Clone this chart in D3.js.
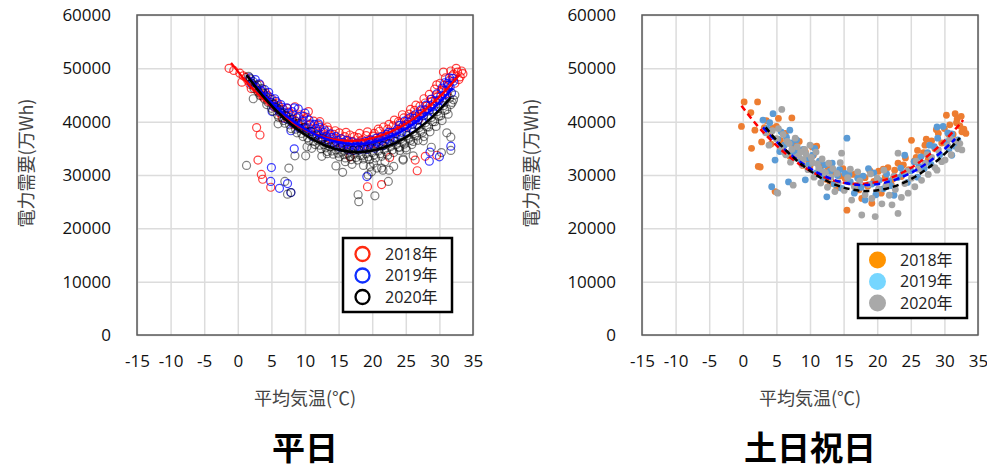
<!DOCTYPE html>
<html>
<head>
<meta charset="utf-8">
<script src="https://cdn.jsdelivr.net/npm/d3@7/dist/d3.min.js"></script>
<style>
    body { margin: 0; background: #fff; }
    text { font-family: "Open Sans", "Noto Sans CJK JP", sans-serif; }
</style>
</head>
<body>
<svg id="chart" width="987" height="469"></svg>
<script>
// Axis ticks
const TEMP_TICKS = [-15, -10, -5, 0, 5, 10, 15, 20, 25, 30, 35];
const DEMAND_TICKS = [0, 10000, 20000, 30000, 40000, 50000, 60000];
const YEARS = ["2018年", "2019年", "2020年"];

// Weekday (平日) observations: [average temp, demand]
const weekday2018 = [
    [-1.3,50000],[-0.6,49600],[0.3,49100],[0.6,47400],[1.2,48300],[1.8,47000],[2.4,46600],[2.9,45800],
    [3.3,46900],[3.8,44600],[4.2,45300],[4.6,43800],[5.1,44200],[5.5,42700],[5.9,43500],[6.3,41600],
    [6.8,42300],[7.2,40900],[7.6,41800],[8.1,40200],[8.5,42800],[8.9,39600],[9.3,41300],[9.7,40400],
    [10.1,39000],[10.5,41900],[10.9,38600],[11.3,40100],[11.6,38200],[12.0,39300],[12.4,37600],[12.8,38700],
    [13.1,37100],[13.5,38400],[13.9,36700],[14.3,37600],[14.7,36200],[15.1,37900],[15.5,36000],[15.9,37200],
    [16.3,35800],[16.7,37500],[17.1,36300],[17.5,35600],[17.9,37000],[18.3,36100],[18.7,35500],[19.1,37400],
    [19.5,36500],[19.9,35900],[20.3,37800],[20.7,36900],[21.1,38200],[21.5,36400],[21.9,37500],[22.3,38600],
    [22.7,37300],[23.1,39200],[23.5,38100],[23.9,40000],[24.3,38900],[24.7,40700],[25.1,39500],[25.5,41400],
    [25.9,40300],[26.3,42100],[26.7,41000],[27.1,42900],[27.5,41600],[27.9,43500],[28.3,42400],[28.7,44200],
    [29.1,43300],[29.5,45000],[29.9,44100],[30.3,45900],[30.7,46800],[31.1,45300],[31.5,47700],[31.9,48600],
    [32.3,47200],[32.7,49300],[33.1,48400],[33.5,49000],[31.7,49500],[32.5,50000],[30.6,49300],[29.6,46900],
    [0.8,48600],[1.5,47700],[2.0,46200],[3.5,45000],[4.4,44900],[5.3,43300],[6.1,42900],[6.6,40700],
    [7.4,42500],[7.9,41100],[8.3,39500],[9.1,40900],[9.5,38800],[10.3,40800],[10.7,39400],[11.1,37500],
    [11.9,38300],[12.2,40000],[12.6,36800],[13.3,39000],[13.7,37500],[14.1,36000],[14.5,38300],[15.3,36800],
    [15.7,35500],[16.1,38000],[16.5,36400],[17.3,37200],[17.7,35900],[18.1,37800],[18.5,36600],[18.9,35800],
    [19.3,38100],[19.7,36200],[20.1,37300],[20.5,35900],[20.9,38600],[21.3,37000],[21.7,39000],[22.1,37200],
    [22.5,39500],[22.9,38000],[23.3,40300],[23.7,38500],[24.1,39700],[24.5,41300],[24.9,39000],[25.3,40500],
    [25.7,42300],[26.1,41100],[26.5,43100],[26.9,40400],[27.3,42000],[27.7,44300],[28.1,42900],[28.5,45100],
    [28.9,43800],[29.3,46100],[29.7,44600],[30.1,47200],[30.5,45600],[30.9,48200],[31.3,46700],[32.1,48900],
    [32.9,47900],[33.3,49500],
    [2.8,38900],[3.3,37500],[3.0,32800],[3.5,30100],[3.7,29200],[4.9,27700],[16.7,33400],[19.3,27800],
    [21.4,28200],[22.6,33300],[26.4,32800],[26.7,30800],[27.9,33500],[29.6,33700]
];
const weekday2019 = [
    [1.8,48200],[2.3,47500],[2.8,46400],[3.2,47100],[3.7,45600],[4.1,44800],[4.6,45500],[5.0,43600],
    [5.5,44300],[5.9,42500],[6.4,43200],[6.8,41700],[7.3,42600],[7.7,40800],[8.1,41900],[8.6,40100],
    [9.0,42400],[9.4,39400],[9.8,41000],[10.2,38700],[10.6,40300],[11.0,38100],[11.4,39500],[11.8,37600],
    [12.2,38900],[12.6,37100],[13.0,38300],[13.4,36600],[13.8,37700],[14.2,36100],[14.6,37200],[15.0,35700],
    [15.4,36800],[15.8,35300],[16.2,36500],[16.6,35100],[17.0,36200],[17.4,35000],[17.8,36000],[18.2,35400],
    [18.6,34900],[19.0,36300],[19.4,35200],[19.8,36600],[20.2,35500],[20.6,36900],[21.0,35800],[21.4,37200],
    [21.8,36200],[22.2,37600],[22.6,36500],[23.0,38000],[23.4,37000],[23.8,38600],[24.2,37500],[24.6,39200],
    [25.0,38100],[25.4,39900],[25.8,38800],[26.2,40600],[26.6,39500],[27.0,41400],[27.4,40200],[27.8,42200],
    [28.2,41000],[28.6,43000],[29.0,41900],[29.4,43900],[29.8,42800],[30.2,44800],[30.6,43800],[31.0,45800],
    [31.4,46900],[31.8,45400],[32.1,47600],[30.8,47300],[31.5,48200],
    [2.0,47200],[2.6,47900],[3.4,45900],[4.0,46000],[4.8,44600],[5.3,42900],[5.7,43800],[6.2,41900],
    [6.6,42700],[7.0,40600],[7.5,41600],[8.0,39900],[8.4,42600],[8.8,40700],[9.2,38800],[9.6,40100],
    [10.0,41600],[10.4,38000],[10.8,39600],[11.2,37200],[11.6,38700],[12.0,39600],[12.4,36800],[12.8,38000],
    [13.2,37300],[13.6,35900],[14.0,37000],[14.4,35600],[14.8,36500],[15.2,35200],[15.6,36100],[16.0,35800],
    [16.4,34700],[16.8,35600],[17.2,34600],[17.6,35400],[18.0,34700],[18.4,36000],[18.8,35200],[19.2,34800],
    [19.6,35700],[20.0,36200],[20.4,35000],[20.8,36200],[21.2,36500],[21.6,35500],[22.0,36800],[22.4,38000],
    [22.8,37100],[23.2,36400],[23.6,37800],[24.0,39300],[24.4,38000],[24.8,40100],[25.2,38900],[25.6,40700],
    [26.0,39500],[26.4,41300],[26.8,40300],[27.2,42200],[27.6,41100],[28.0,43100],[28.4,42000],[28.8,44200],
    [29.2,42900],[29.6,45200],[30.0,44000],[30.4,46300],[30.8,45000],[31.2,47200],[31.6,46500],[32.0,48100],
    [5.1,41900],[7.9,38300],[8.4,34900],[5.0,31400],[4.9,28800],[6.2,27500],[7.4,28400],[7.9,26700],
    [19.2,29700],[28.6,34300],[28.5,32600],[30.0,33400],[31.7,35400]
];
const weekday2020 = [
    [1.6,48500],[2.1,47200],[2.6,46700],[3.1,45500],[3.6,46200],[4.0,44200],[4.5,43600],[5.0,42500],
    [5.4,43300],[5.9,41300],[6.3,42200],[6.8,40200],[7.2,41100],[7.7,39400],[8.1,40500],[8.6,38600],
    [9.0,39700],[9.5,37800],[9.9,38900],[10.4,37000],[10.8,38200],[11.3,36300],[11.7,37400],[12.2,35600],
    [12.6,36800],[13.1,35100],[13.5,36200],[14.0,34500],[14.4,35600],[14.9,34100],[15.3,35200],[15.8,33800],
    [16.2,34900],[16.7,33500],[17.1,34600],[17.6,33300],[18.0,34700],[18.5,33600],[18.9,34900],[19.4,33400],
    [19.8,35100],[20.3,33800],[20.7,35300],[21.2,34000],[21.6,35500],[22.1,34300],[22.5,35900],[23.0,34700],
    [23.4,36300],[23.9,35200],[24.3,36800],[24.8,35800],[25.2,37400],[25.7,36500],[26.1,38100],[26.6,37300],
    [27.0,38900],[27.5,38000],[27.9,39800],[28.4,39000],[28.8,40800],[29.3,40000],[29.7,41900],[30.2,41100],
    [30.6,43000],[31.1,42300],[31.5,44400],[31.9,43600],[32.3,45000],
    [1.9,48000],[2.4,46200],[2.9,46900],[3.3,44900],[3.8,45300],[4.3,43200],[4.7,44300],[5.2,42000],
    [5.7,42700],[6.1,40800],[6.5,41600],[7.0,39700],[7.4,40400],[7.9,38700],[8.3,39800],[8.8,37900],
    [9.2,38700],[9.7,37200],[10.1,38100],[10.6,36400],[11.0,37300],[11.5,35700],[11.9,36500],[12.4,34900],
    [12.8,35700],[13.3,34400],[13.7,35300],[14.2,33900],[14.6,34700],[15.1,33400],[15.5,34300],[16.0,33200],
    [16.4,34100],[16.9,32900],[17.3,33900],[17.8,32800],[18.2,33700],[18.7,33000],[19.1,34000],[19.6,32900],
    [20.0,34200],[20.5,33200],[20.9,34500],[21.4,33500],[21.8,34800],[22.3,33700],[22.7,35300],[23.2,34200],
    [23.6,35700],[24.1,34600],[24.5,36200],[25.0,35100],[25.4,36800],[25.9,35700],[26.3,37400],[26.8,36500],
    [27.2,38200],[27.7,37200],[28.1,39000],[28.6,38100],[29.0,40000],[29.5,39100],[29.9,41000],[30.4,40200],
    [30.8,42100],[31.3,41400],[31.7,43200],[32.1,44100],
    [1.3,31800],[2.3,44300],[6.0,39600],[7.6,31300],[7.0,28800],[7.4,26400],[7.9,26700],[8.5,33600],
    [10.1,33600],[10.3,35300],[11.0,35000],[14.6,31700],[15.6,30500],[17.9,26300],[18.0,25000],[20.4,26100],
    [22.4,28800],[18.7,31800],[19.4,30000],[19.7,31600],[19.9,30600],[20.2,32200],[20.7,31300],[21.4,31300],
    [21.6,30900],[21.9,32500],[22.5,30900],[23.2,31600],[24.1,35200],[24.6,32800],[24.6,33000],[25.1,34700],
    [26.1,36300],[26.1,33600],[27.6,36400],[28.8,35200],[30.3,34200],[31.1,37900],[31.7,37100],[31.7,34600],
    [12.5,33500],[13.3,34000],[16.0,32500],[17.0,32000]
];

// Weekday trend curves
const weekdayFit2018 = [[-1,51030],[1,47910],[3,45170],[5,42790],[7,40790],[9,39170],[11,37920],[13,37040],
    [15,36540],[17,36400],[19,36650],[21,37260],[23,38250],[25,39620],[27,41360],[29,43470],[31,45950],[33,48810]];
const weekdayFit2019 = [[1.5,48560],[4,44890],[7,41300],[10,38610],[13,36810],[16,35910],[19,35910],
    [22,36810],[25,38610],[28,41300],[30,43600],[32,46290]];
const weekdayFit2020 = [[1.3,48750],[4,44400],[7,40490],[10,37540],[13,35530],[16,34480],[19,34390],
    [22,35250],[25,37060],[28,39820],[30,42200],[31.7,44550]];

// Weekend / holiday (土日祝日) observations
const holiday2018 = [
    [-0.2,39100],[0.2,43700],[1.2,41700],[1.3,35000],[2.2,43700],[2.3,31600],[2.6,31500],[2.8,36200],
    [3.5,40200],[4.0,37500],[4.5,38800],[4.8,26900],[5.3,40600],[5.6,36500],[6.0,35200],[6.3,37800],
    [6.8,34000],[7.3,40700],[7.6,35800],[8.0,33200],[8.4,36300],[8.9,31800],[9.3,34400],[9.8,32600],
    [10.3,35300],[10.5,33700],[11.0,35400],[11.4,30600],[11.9,31900],[12.4,29200],[13.0,28400],[13.5,30500],
    [14.0,27600],[14.4,29800],[14.9,31200],[15.5,23400],[15.9,28700],[16.4,30100],[17.0,30300],[17.3,27200],
    [17.7,25600],[18.2,29500],[18.6,27900],[19.2,24700],[19.5,28800],[20.2,30700],[20.6,26600],[21.2,29600],
    [21.6,31400],[22.1,28200],[22.6,30900],[23.1,32200],[23.6,29700],[24.2,33200],[24.7,31000],[25.1,36500],
    [25.5,32600],[26.0,34600],[26.4,31400],[26.9,34200],[27.1,35600],[27.6,33000],[28.1,36400],[28.6,34900],
    [29.1,37800],[29.6,36000],[30.0,38700],[30.3,41200],[30.8,39400],[31.3,37600],[31.6,41500],[31.9,40500],
    [32.3,39200],[32.6,38100],[32.9,38600],[33.2,37800],
    [1.8,38400],[3.2,38900],[4.2,35800],[5.0,39100],[6.6,36200],[7.0,33500],[8.7,34600],[10.0,31700],
    [12.7,31300],[15.2,29400],[16.8,28000],[18.9,30800],[20.9,31100],[22.4,29300],[23.9,31900],[25.8,33300],
    [27.3,36700],[28.8,38500],[30.6,37700],[31.8,39800],[32.5,41000]
];
const holiday2019 = [
    [3.0,40300],[3.6,38700],[4.3,27800],[4.5,41500],[4.8,32800],[5.2,36700],[5.7,38100],[6.2,35600],
    [6.8,28700],[7.0,38400],[7.5,34300],[8.0,36600],[8.5,33000],[9.0,34800],[9.3,29100],[9.8,31900],
    [10.4,33700],[10.9,30400],[11.4,32600],[11.9,29500],[12.2,31900],[12.5,25900],[13.0,30700],[13.6,28300],
    [14.1,29900],[14.7,27500],[15.2,30300],[15.5,36900],[16.0,28700],[16.6,26600],[17.1,29400],[17.6,27700],
    [18.2,25300],[18.7,31200],[19.2,28300],[19.8,26300],[20.3,29000],[20.9,27400],[21.4,30200],[22.0,28000],
    [22.5,26200],[23.0,29500],[23.5,31300],[24.1,33700],[24.5,28600],[25.0,30800],[25.5,32500],[26.0,29600],
    [26.5,33400],[27.0,31200],[27.5,34200],[28.0,32000],[28.5,35300],[28.9,39000],[29.3,33800],[29.8,39100],
    [30.3,36200],[30.7,34900],[31.1,33700],[31.1,37700],[31.6,35400],[32.0,36600],
    [4.0,39800],[5.5,34400],[6.5,37100],[7.2,36000],[8.2,34500],[9.6,33200],[10.7,35000],[11.7,30700],
    [13.3,32200],[14.4,31000],[15.8,30100],[17.9,29800],[19.5,30400],[21.7,28900],[23.8,30200],[26.2,31600],
    [27.8,35600],[29.0,36900],[30.5,37900]
];
const holiday2020 = [
    [3.4,37900],[3.9,35600],[4.4,38300],[5.1,26700],[5.2,26600],[5.3,38700],[5.8,42300],[6.2,34200],
    [6.6,36300],[7.1,32400],[7.5,28100],[7.8,36900],[8.3,33600],[8.8,31900],[9.2,34800],[9.7,31000],
    [10.2,33300],[10.6,29600],[11.1,32100],[11.6,28500],[12.0,30600],[12.6,27700],[13.1,29600],[13.7,26900],
    [14.2,28500],[14.7,34100],[15.1,27100],[15.6,29500],[16.2,25300],[16.6,27800],[17.1,30600],[17.7,22500],
    [18.2,26300],[18.7,28200],[19.2,25600],[19.7,22200],[20.2,27400],[20.7,24600],[21.3,28000],[21.8,26200],
    [22.2,24400],[22.7,27300],[23.1,22800],[23.1,34100],[23.6,25800],[24.1,28400],[24.6,26600],[25.1,29400],
    [25.6,27800],[26.1,31100],[26.6,29000],[27.1,32200],[27.6,30100],[28.1,33300],[28.6,31400],[29.1,34700],
    [29.6,32500],[30.1,32800],[30.5,35500],[31.0,33800],[31.5,36400],[32.0,34900],[32.3,35900],[32.6,34700],
    [5.0,36800],[5.6,35300],[6.0,37600],[6.4,33800],[6.9,35900],[7.3,34800],[7.7,33200],[8.1,35300],
    [8.6,34300],[9.0,32900],[9.4,33900],[10.0,35600],[10.4,32300],[10.9,34300],[11.3,31300],[11.8,33000],
    [12.3,30400],[12.8,32200],[13.4,31200],[14.0,30300],[14.5,32300],[16.0,31100],[17.4,28900],[19.0,30200],
    [20.0,29400],[21.0,30900],[22.5,29800],[24.4,30700],[25.8,32600],[27.4,33800],[28.9,30900],[30.8,36800]
];

const holidayFit2018 = [[-0.2,43000],[2,39490],[4,36780],[6,34400],[8,32410],[10,30810],[12,29610],[14,28800],
    [16,28380],[18,28350],[20,28710],[22,29460],[24,30610],[26,32150],[28,34080],[30,36400],[32,39130],[32.8,40310]];
const holidayFit2019 = [[3,38930],[5,36260],[7,33970],[9,32050],[11,30510],[13,29360],[15,28580],[17,28180],
    [19,28160],[21,28520],[23,29260],[25,30380],[27,31880],[29,33760],[31,36010],[31.6,36770]];
const holidayFit2020 = [[3.4,38925],[5,36530],[7,33920],[9,31720],[11,29940],[13,28580],[15,27640],[17,27120],
    [19,27010],[21,27330],[23,28060],[25,29210],[27,30780],[29,32770],[31,35170],[32.3,36960]];

const svg = d3.select("#chart");

const plot = { left: 137, right: 473, top: 15, bottom: 335 };

const x = d3.scaleLinear().domain([-15, 35]).range([plot.left, plot.right]);
const y = d3.scaleLinear().domain([0, 60000]).range([plot.bottom, plot.top]);

function drawFrame(g, title) {
    // grid + tick labels
    g.append("g")
        .attr("transform", `translate(0,${plot.bottom})`)
        .call(d3.axisBottom(x).tickValues(TEMP_TICKS).tickSize(-(plot.bottom - plot.top)).tickPadding(20)
            .tickFormat(d => String(d)))
        .call(a => a.select(".domain").remove())
        .call(a => a.selectAll("line").attr("stroke", "#dcdcdc").attr("stroke-width", 1.5))
        .call(a => a.selectAll("text").attr("font-size", 17).attr("fill", "#111")
            .style("font-family", "'Open Sans', sans-serif"));

    g.append("g")
        .attr("transform", `translate(${plot.left},0)`)
        .call(d3.axisLeft(y).tickValues(DEMAND_TICKS).tickSize(-(plot.right - plot.left)).tickPadding(26)
            .tickFormat(d => String(d)))
        .call(a => a.select(".domain").remove())
        .call(a => a.selectAll("line").attr("stroke", "#dcdcdc").attr("stroke-width", 1.5))
        .call(a => a.selectAll("text").attr("font-size", 17).attr("fill", "#111")
            .style("font-family", "'Open Sans', sans-serif"));

    g.append("rect")
        .attr("x", plot.left).attr("y", plot.top)
        .attr("width", plot.right - plot.left).attr("height", plot.bottom - plot.top)
        .attr("fill", "none").attr("stroke", "#5a5a5a").attr("stroke-width", 1.5);

    g.append("text")
        .attr("x", (plot.left + plot.right) / 2).attr("y", 405)
        .attr("text-anchor", "middle").attr("font-size", 18).attr("fill", "#444")
        .style("font-family", "'Noto Sans CJK JP', sans-serif")
        .text("平均気温(℃)");

    g.append("text")
        .attr("transform", "translate(33,163) rotate(-90)")
        .attr("text-anchor", "middle").attr("font-size", 18).attr("fill", "#444")
        .style("font-family", "'Noto Sans CJK JP', sans-serif")
        .text("電力需要(万Wh)");

    g.append("text")
        .attr("x", (plot.left + plot.right) / 2).attr("y", 460)
        .attr("text-anchor", "middle").attr("font-size", 33).attr("font-weight", "bold").attr("fill", "#000")
        .style("font-family", "'Noto Sans CJK JP', sans-serif")
        .text(title);
}

function drawLegend(g, lx, ly, colors, filled) {
    const box = g.append("g").attr("transform", `translate(${lx},${ly})`);
    box.append("rect")
        .attr("width", 109).attr("height", 74)
        .attr("fill", "#fff").attr("stroke", "#000").attr("stroke-width", 2.5);
    YEARS.forEach((label, i) => {
        const cy = 16 + i * 21.5;
        const c = box.append("circle").attr("cx", 19.5).attr("cy", cy);
        if (filled) c.attr("r", 8.5).attr("fill", colors[i]);
        else c.attr("r", 7).attr("fill", "none").attr("stroke", colors[i]).attr("stroke-width", 2.3);
        box.append("text")
            .attr("x", 42).attr("y", cy).attr("dy", "0.35em")
            .attr("font-size", 16).attr("fill", "#222")
            .text(label);
    });
}

const line = d3.line().x(d => x(d[0])).y(d => y(d[1])).curve(d3.curveNatural);

// ---- 平日 ----
const gL = svg.append("g");
drawFrame(gL, "平日");

const wdSeries = [
    { data: weekday2018, color: "#ff0000", opacity: 0.75 },
    { data: weekday2019, color: "#0000ff", opacity: 0.75 },
    { data: weekday2020, color: "#000000", opacity: 0.5 }
];
wdSeries.forEach(s => {
    gL.append("g").selectAll("circle")
        .data(s.data)
        .join("circle")
        .attr("cx", d => x(d[0]))
        .attr("cy", d => y(d[1]))
        .attr("r", 4)
        .attr("fill", "none")
        .attr("stroke", s.color)
        .attr("stroke-opacity", s.opacity)
        .attr("stroke-width", 1.2);
});

[[weekdayFit2018, "#ff0000", 2.2], [weekdayFit2019, "#0000ff", 2.4], [weekdayFit2020, "#000000", 2.6]]
    .forEach(([d, c, w]) => {
        gL.append("path").datum(d).attr("d", line)
            .attr("fill", "none").attr("stroke", c).attr("stroke-width", w);
    });

drawLegend(gL, 343, 238, ["#ff2a10", "#1030ff", "#000"], false);

// ---- 土日祝日 ----
const gR = svg.append("g").attr("transform", "translate(505,0)");
drawFrame(gR, "土日祝日");

const hdSeries = [
    { data: holiday2018, color: "#ed7d31" },
    { data: holiday2019, color: "#5b9bd5" },
    { data: holiday2020, color: "#a5a5a5" }
];
hdSeries.forEach(s => {
    gR.append("g").selectAll("circle")
        .data(s.data)
        .join("circle")
        .attr("cx", d => x(d[0]))
        .attr("cy", d => y(d[1]))
        .attr("r", 3.4)
        .attr("fill", s.color);
});

[[holidayFit2018, "#ff0000"], [holidayFit2019, "#0000ff"], [holidayFit2020, "#000000"]]
    .forEach(([d, c]) => {
        gR.append("path").datum(d).attr("d", line)
            .attr("fill", "none").attr("stroke", c).attr("stroke-width", 2.5)
            .attr("stroke-dasharray", "6,4");
    });

drawLegend(gR, 353, 244, ["#ff9300", "#76d6ff", "#a9a9a9"], true);
</script>
</body>
</html>
